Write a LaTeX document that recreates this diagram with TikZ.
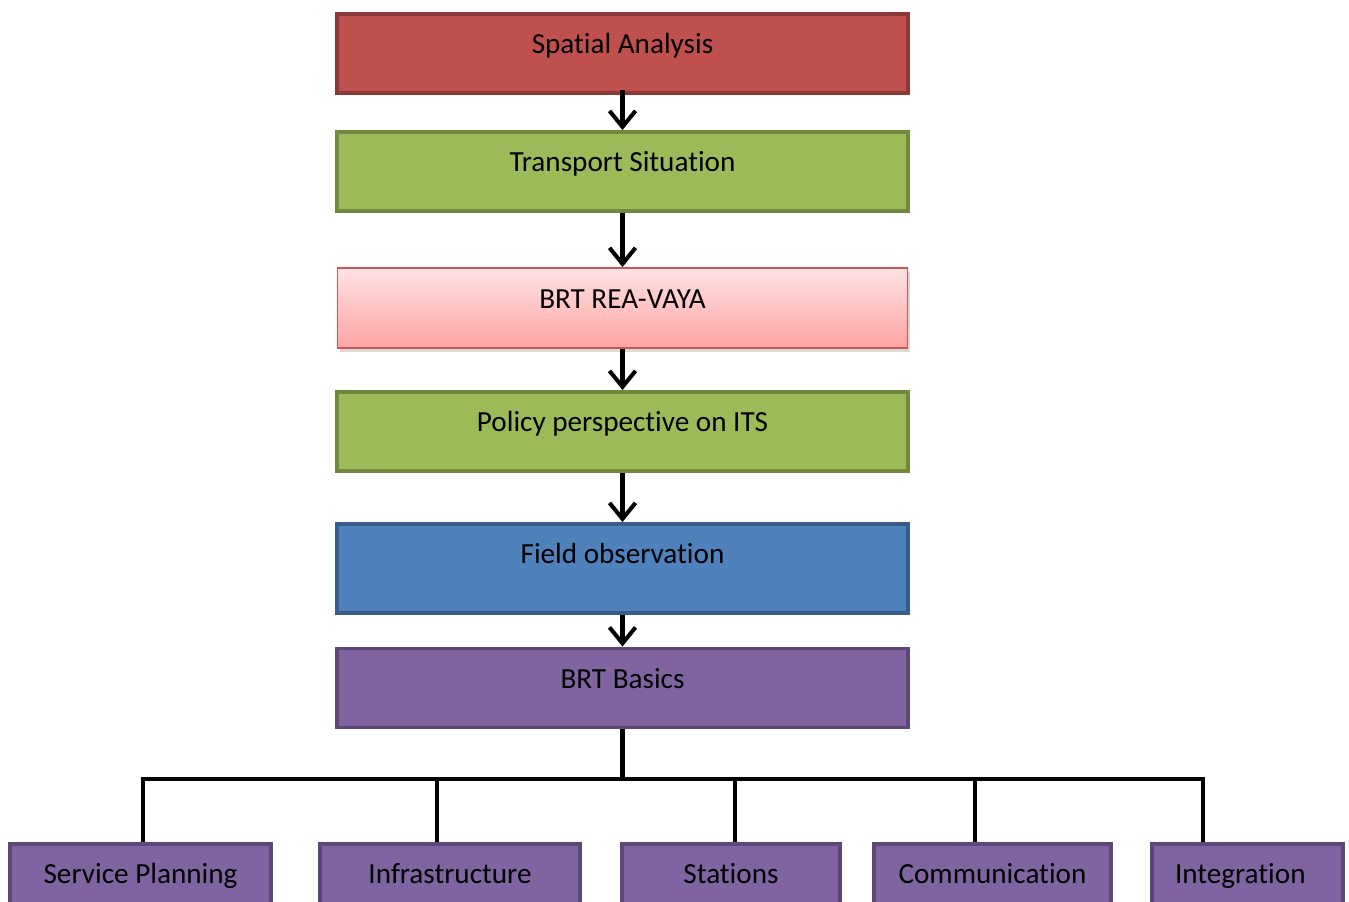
\documentclass[tikz,border=0pt]{standalone}
\usepackage{fontspec}
\setmainfont[Ligatures=NoCommon]{Carlito}
\usepackage{tikz}
\usetikzlibrary{shapes.geometric, arrows, arrows.meta, shadows}
\definecolor{redfill}{HTML}{C0504D}
\definecolor{redline}{HTML}{8C3836}
\definecolor{greenfill}{HTML}{9BBB59}
\definecolor{greenline}{HTML}{71893F}
\definecolor{pinktop}{HTML}{FFE3E3}
\definecolor{pinkbottom}{HTML}{FFA3A3}
\definecolor{pinkline}{HTML}{CC5558}
\definecolor{bluefill}{HTML}{4F81BD}
\definecolor{blueline}{HTML}{385D8A}
\definecolor{purplefill}{HTML}{8064A2}
\definecolor{purpleline}{HTML}{5C4776}
\tikzstyle{stage} = [rectangle, minimum width=11.42cm, minimum height=1.58cm, text centered, line width=2.2pt, text height=0.35cm, text depth=0.35cm, font=\fontsize{16.6}{20}\selectfont]
\tikzstyle{spatialbox} = [stage, draw=redline, fill=redfill]
\tikzstyle{greenbox} = [stage, draw=greenline, fill=greenfill]
\tikzstyle{pinkbox} = [stage, minimum width=11.4cm, minimum height=1.6cm, line width=1.1pt, draw=pinkline, top color=pinktop, bottom color=pinkbottom, drop shadow={shadow xshift=0.4mm, shadow yshift=-0.8mm, opacity=0.3}]
\tikzstyle{bluebox} = [stage, minimum height=1.78cm, text depth=0.55cm, draw=blueline, fill=bluefill]
\tikzstyle{purplebox} = [stage, draw=purpleline, fill=purplefill]
\tikzstyle{arrow} = [line width=2.3pt, -{Straight Barb[length=0.32cm, width=0.52cm, line width=2.3pt]}]
\tikzstyle{tree} = [line width=2.3pt, line join=miter]
\begin{document}
\begin{tikzpicture}[node distance=2.5cm]
		\useasboundingbox (0,0) rectangle (26.98,-18.04);
		\node (spatial) [spatialbox] at (12.45,-1.07) {Spatial Analysis};
		\node (transport) [greenbox, below of=spatial, yshift=0.14cm] {Transport Situation};
		\node (reavaya) [pinkbox, below of=transport, yshift=-0.23cm] {BRT REA-VAYA};
		\node (policy) [greenbox, below of=reavaya, yshift=0.03cm] {Policy perspective on ITS};
		\node (field) [bluebox, below of=policy, yshift=-0.24cm] {Field observation};
		\node (basics) [purplebox, below of=field, yshift=0.11cm] {BRT Basics};
		\node (service) [purplebox, minimum width=5.22cm] at (2.81,-17.67) {Service Planning};
		\node (infra) [purplebox, minimum width=5.2cm] at (9.0,-17.67) {Infrastructure};
		\node (stations) [purplebox, minimum width=4.36cm] at (14.62,-17.67) {Stations};
		\node (comm) [purplebox, minimum width=4.74cm] at (19.85,-17.67) {Communication};
		\node (integ) [purplebox, minimum width=3.82cm, text width=3.5cm, align=left, inner xsep=0.1cm] at (24.95,-17.67) {\hspace*{0.3cm}Integration};
		\coordinate (bus) at ([yshift=-1cm]basics.south);
		\draw [arrow] ([yshift=0.1cm]spatial.south) -- (transport.north);
		\draw [arrow] (transport.south) -- (reavaya.north);
		\draw [arrow] (reavaya.south) -- (policy.north);
		\draw [arrow] (policy.south) -- (field.north);
		\draw [arrow] (field.south) -- (basics.north);
		\draw [tree] (basics.south) -- (bus);
		\draw [tree] (bus) -| ([xshift=0.05cm]service.north);
		\draw [tree] (bus) -| ([xshift=-0.26cm]infra.north);
		\draw [tree] (bus) -| ([xshift=0.08cm]stations.north);
		\draw [tree] (bus) -| ([xshift=-0.35cm]comm.north);
		\draw [tree] (bus) -| ([xshift=-0.89cm]integ.north);
		\end{tikzpicture}
\end{document}
